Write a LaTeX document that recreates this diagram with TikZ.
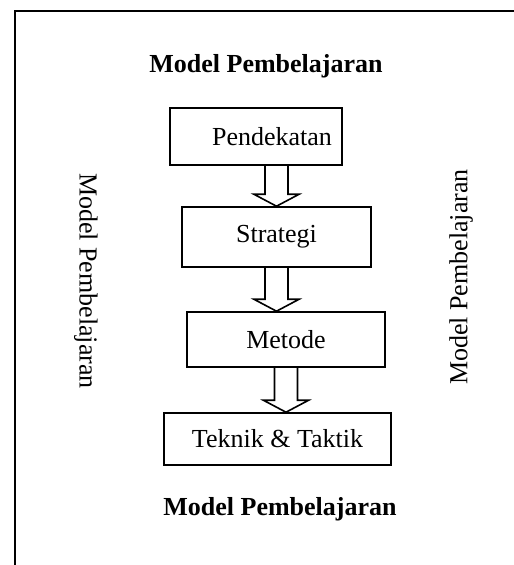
\documentclass[tikz,border=0pt]{standalone}
\usepackage{fontspec}
\setmainfont{Liberation Serif}
\usetikzlibrary{calc}

\tikzset{
  boxfont/.style={font=\fontsize{19.5}{23}\selectfont},
  stepbox/.style={draw, line width=1.2pt, inner sep=0pt, boxfont},
  sidetext/.style={inner sep=0pt, boxfont},
  titletext/.style={inner sep=0pt, font=\fontsize{19.5}{23}\selectfont\bfseries},
  blockarrow/.style={line width=1.2pt, to path={let \p1=(\tikztostart), \p2=(\tikztotarget) in
    (\x1-8.6pt,\y1) -- (\x1-8.6pt,\y2-9pt) -- (\x1-17pt,\y2-9pt) -- (\x1,\y2)
    -- (\x1+17pt,\y2-9pt) -- (\x1+8.6pt,\y2-9pt) -- (\x1+8.6pt,\y1)}},
}

\begin{document}
\begin{tikzpicture}[x=0.75pt,y=0.75pt,yscale=-1,xscale=1]
\useasboundingbox (0,0) rectangle (514,565);
\clip (0,0) rectangle (514,565);

%Shape: outer frame (runs past the page)
\draw [line width=1.5pt] (15,11) rectangle (560,620);

% Text Node
\node [titletext, anchor=base] (toptitle) at (266,72) {Model Pembelajaran};
% Text Node
\node [titletext, anchor=base] (bottitle) at (280,515) {Model Pembelajaran};
% Text Node
\node [sidetext, rotate=-90] (leftlbl) at (86,281) {Model Pembelajaran};
% Text Node
\node [sidetext, rotate=90] (rightlbl) at (461,277) {Model Pembelajaran};

%Shape: Rectangle
\node [stepbox, minimum width=129pt, minimum height=42.75pt,
  label={[boxfont, inner sep=0pt, xshift=12pt]center:Pendekatan}] (pend) at (256,136.5) {};
%Shape: Rectangle
\node [stepbox, minimum width=141.75pt, minimum height=45pt] (strat) at (276.5,237) {Strategi};
%Shape: Rectangle
\node [stepbox, minimum width=148.5pt, minimum height=41.25pt] (met) at (286,339.5) {Metode};
%Shape: Rectangle
\node [stepbox, minimum width=170.25pt, minimum height=39pt] (tek) at (277.5,439) {Teknik \& Taktik};

%Block Arrows
\draw [blockarrow] (strat.north |- pend.south) to (strat.north);
\draw [blockarrow] (strat.south) to (strat.south |- met.north);
\draw [blockarrow] (met.south) to (met.south |- tek.north);
\end{tikzpicture}
\end{document}
